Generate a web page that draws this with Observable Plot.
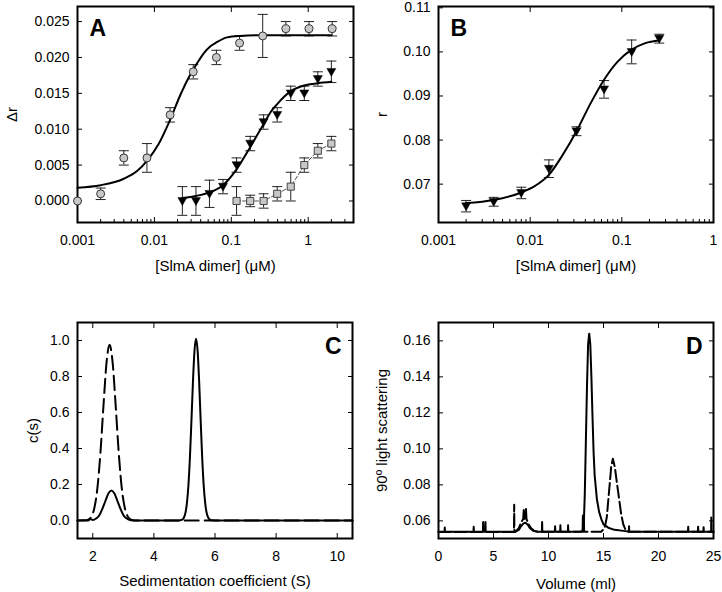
<!DOCTYPE html>
<html><head><meta charset="utf-8">
<script src="https://cdn.jsdelivr.net/npm/d3@7"></script>
<script src="https://cdn.jsdelivr.net/npm/@observablehq/plot@0.6"></script>
<style>
body{margin:0;background:#fff;}
#fig{position:relative;width:722px;height:592px;background:#fff;overflow:hidden;}
.panel{position:absolute;}
</style></head><body><div id="fig"></div>
<script>
// ---------- Panel A data ----------
const aCircX = [0.001,0.002,0.004,0.008,0.016,0.032,0.064,0.128,0.256,0.512,1.024,2.048];
const aCircY = [0.0000,0.0010,0.0060,0.0060,0.0120,0.0180,0.0200,0.0220,0.0230,0.0240,0.0240,0.0240];
const aCircE = [0,0.0008,0.0010,0.0020,0.0010,0.0010,0.0010,0.0010,0.0030,0.0010,0.0010,0.0010];
const aTriX = [0.0231,0.0347,0.052,0.078,0.117,0.176,0.263,0.395,0.593,0.889,1.333,2.0];
const aTriY = [0.0000,0.0000,0.0010,0.0020,0.0050,0.0080,0.0110,0.0120,0.0150,0.0150,0.0170,0.0180];
const aTriE = [0.0020,0.0020,0.0019,0.0010,0.0010,0.0010,0.0010,0.0010,0.0010,0.0010,0.0010,0.0015];
const aSqX = [0.117,0.176,0.263,0.395,0.593,0.889,1.333,2.0];
const aSqY = [0.0000,0.0000,0.0000,0.0010,0.0020,0.0050,0.0070,0.0080];
const aSqE = [0.0020,0.0008,0.0010,0.0010,0.0020,0.0010,0.0010,0.0010];
const aFitCircX = [0.001,0.002,0.004,0.006,0.008,0.0113,0.016,0.0218,0.027,0.032,0.038,0.044,0.054,0.064,0.088,0.128,0.25,0.5,1,2];
const aFitCircY = [0.00185,0.0022,0.0031,0.0042,0.0056,0.0079,0.0113,0.0148,0.0169,0.0183,0.0196,0.0206,0.0216,0.0221,0.0228,0.0230,0.0231,0.0231,0.0231,0.0231];
const aFitTriX = [0.0232,0.0347,0.052,0.078,0.117,0.176,0.22,0.263,0.33,0.395,0.593,0.889,1.333,2.0];
const aFitTriY = [0.0004,0.0007,0.0012,0.0022,0.0044,0.0075,0.0093,0.0107,0.0125,0.0135,0.0153,0.0161,0.0164,0.0166];
const aYTicks = [0,0.005,0.010,0.015,0.020,0.025];

// ---------- Panel B data ----------
const bX = [0.002,0.004,0.008,0.016,0.032,0.064,0.128,0.256];
const bY = [0.0650,0.0660,0.0680,0.0735,0.0820,0.0915,0.1000,0.1030];
const bE = [0.0013,0.0010,0.0013,0.0020,0.0010,0.0020,0.0027,0.0010];
const bFitX = [0.002,0.004,0.008,0.0113,0.016,0.0226,0.032,0.045,0.064,0.09,0.128,0.18,0.256];
const bFitY = [0.0657,0.0664,0.0681,0.0696,0.0721,0.0766,0.0820,0.0881,0.0937,0.0978,0.1005,0.1020,0.1026];
const bYTicks = [0.07,0.08,0.09,0.10,0.11];

const logMajor = [0.001,0.01,0.1,1];
const logMinor = [0.002,0.003,0.004,0.005,0.006,0.007,0.008,0.009,0.02,0.03,0.04,0.05,0.06,0.07,0.08,0.09,0.2,0.3,0.4,0.5,0.6,0.7,0.8,0.9,2,3];

// ---------- Panel C data ----------
const cSolidX = [1.5,1.85,1.93,2.0,2.11,2.21,2.31,2.41,2.51,2.61,2.71,2.81,2.91,3.01,3.11,3.21,3.4,4.8,4.93,4.98,5.03,5.08,5.13,5.18,5.23,5.28,5.33,5.38,5.43,5.48,5.53,5.58,5.63,5.68,5.73,5.78,5.83,5.9,6.1,10.5];
const cSolidY = [0,0,0.008,0.003,0.011,0.028,0.063,0.107,0.150,0.167,0.150,0.107,0.063,0.028,0.011,0.003,0,0,0.005,0.015,0.040,0.095,0.195,0.352,0.559,0.777,0.945,1.010,0.945,0.777,0.559,0.352,0.195,0.095,0.040,0.015,0.005,0.001,0,0];
const cDashX = [1.5,1.75,1.85,1.95,2.05,2.15,2.25,2.35,2.45,2.55,2.65,2.75,2.85,2.95,3.05,3.15,3.25,3.4,10.5];
const cDashY = [0,0.001,0.005,0.021,0.068,0.178,0.375,0.637,0.877,0.976,0.877,0.637,0.375,0.178,0.068,0.021,0.005,0,0];
const cXTicks = [2,4,6,8,10];
const cYTicks = [0,0.2,0.4,0.6,0.8,1.0];

// ---------- Panel D data ----------
const dSolid = [[0,0.054],[0.55,0.054],[0.57,0.0563],[0.59,0.054],[3.18,0.054],[3.2,0.0567],[3.22,0.054],[4.04,0.054],[4.06,0.0594],[4.08,0.054],[4.25,0.054],[4.27,0.0594],[4.29,0.054],[7.0,0.054],[7.3,0.055],[7.5,0.057],[7.7,0.0585],[7.9,0.059],[8.1,0.058],[8.3,0.056],[8.6,0.0545],[9.0,0.054],[9.4,0.054],[9.42,0.0594],[9.44,0.054],[10.58,0.054],[10.6,0.057],[10.62,0.054],[11.06,0.054],[11.08,0.0575],[11.1,0.054],[11.76,0.054],[11.78,0.0576],[11.8,0.054],[12.9,0.054],[13.1,0.0545],[13.13,0.063],[13.16,0.0555],[13.2,0.057],[13.3,0.075],[13.4,0.105],[13.5,0.135],[13.6,0.158],[13.7,0.164],[13.8,0.158],[13.9,0.14],[14.0,0.118],[14.1,0.098],[14.2,0.085],[14.4,0.072],[14.6,0.065],[14.8,0.061],[15.0,0.058],[15.5,0.056],[16.0,0.055],[17.0,0.0543],[17.3,0.054],[17.32,0.057],[17.34,0.054],[22.68,0.054],[22.7,0.0567],[22.72,0.054],[23.58,0.054],[23.6,0.0567],[23.62,0.054],[24.08,0.054],[24.1,0.0565],[24.12,0.054],[24.78,0.054],[24.8,0.0619],[24.82,0.054],[25,0.054]];
const dDash = [[0,0.0538],[6.86,0.0538],[6.88,0.069],[6.9,0.0538],[7.0,0.054],[7.3,0.056],[7.5,0.059],[7.7,0.061],[7.75,0.066],[7.8,0.061],[7.85,0.062],[7.95,0.067],[8.0,0.061],[8.2,0.058],[8.4,0.056],[8.7,0.0545],[9.0,0.054],[13.2,0.054],[13.22,0.0625],[13.24,0.054],[14.8,0.054],[15.1,0.056],[15.3,0.062],[15.5,0.076],[15.7,0.09],[15.85,0.0945],[15.95,0.092],[16.05,0.089],[16.2,0.082],[16.4,0.073],[16.6,0.064],[16.8,0.058],[17.0,0.055],[17.3,0.054],[25,0.054]];
const dXTicks = [0,5,10,15,20,25];
const dYTicks = [0.06,0.08,0.10,0.12,0.14,0.16];

// ---------- helpers ----------
const FONT = '"Liberation Sans", Arial, Helvetica, sans-serif';
const TICK_FS = 14, TITLE_FS = 15;
const hcap = {draw(ctx, size){const w = Math.sqrt(size/Math.PI); ctx.moveTo(-w,0); ctx.lineTo(w,0);}};
const triDown = {draw(ctx, size){const r = Math.sqrt(size/Math.PI); ctx.moveTo(-r,-0.75*r); ctx.lineTo(r,-0.75*r); ctx.lineTo(0,r); ctx.closePath();}};
const none = () => "";

function frameAxes({xMajor, xMinor, yMajor, xFmt, yFmt, xLabel, yLabel, xLabelOffset, yLabelOffset}) {
  const m = [];
  m.push(Plot.axisX(xMajor, {anchor:"bottom", tickSize:5, dy:-5, tickFormat:none, label:null}));
  if (xMinor) m.push(Plot.axisX(xMinor, {anchor:"bottom", tickSize:3, dy:-3, tickFormat:none, label:null}));
  m.push(Plot.axisX(xMajor, {anchor:"top", tickSize:5, dy:5, tickFormat:none, label:null}));
  m.push(Plot.axisY(yMajor, {anchor:"left", tickSize:5, dx:5, tickFormat:none, label:null}));
  m.push(Plot.axisY(yMajor, {anchor:"right", tickSize:5, dx:-5, tickFormat:none, label:null}));
  m.push(Plot.axisX(xMajor, {anchor:"bottom", tickSize:0, tickPadding:12.5, tickFormat:xFmt, label:null, fontSize:TICK_FS}));
  m.push(Plot.axisY(yMajor, {anchor:"left", tickSize:0, tickPadding:8, tickFormat:yFmt, label:null, fontSize:TICK_FS}));
  m.push(Plot.axisX([], {anchor:"bottom", tickSize:0, label:xLabel, labelAnchor:"center", labelOffset:xLabelOffset, labelArrow:"none", fontSize:TITLE_FS}));
  m.push(Plot.axisY([], {anchor:"left", tickSize:0, label:yLabel, labelAnchor:"center", labelOffset:yLabelOffset, labelArrow:"none", fontSize:TITLE_FS}));
  m.push(Plot.frame({stroke:"black", strokeWidth:2}));
  return m;
}
function errMarks(data) {
  const d = data.filter(p => p.e > 0);
  return [
    Plot.ruleX(d, {x:"x", y1:p=>p.y-p.e, y2:p=>p.y+p.e, stroke:"#222", strokeWidth:1}),
    Plot.dot(d, {x:"x", y:p=>p.y+p.e, symbol:hcap, r:5, stroke:"#222", fill:"none", strokeWidth:1}),
    Plot.dot(d, {x:"x", y:p=>p.y-p.e, symbol:hcap, r:5, stroke:"#222", fill:"none", strokeWidth:1})
  ];
}
function letter(t, right) {
  return Plot.text([t], {text:d=>d, frameAnchor: right ? "top-right" : "top-left", textAnchor: right ? "end" : "start",
    dx: right ? -11 : 12, dy: right ? 15 : 13, lineAnchor:"top", fontSize:23, fontWeight:"bold", fill:"black"});
}
const zip = (X, Y, E) => X.map((x,i) => ({x, y:Y[i], e: E ? E[i] : 0}));
const style = {fontFamily:FONT, fontSize:"13px", color:"black", background:"white", overflow:"visible"};
const fig = document.getElementById("fig");
function place(el, left, top) { const d = document.createElement("div"); d.className = "panel"; d.style.left = left+"px"; d.style.top = top+"px"; d.appendChild(el); fig.appendChild(d); }

// ---------- Panel A ----------
const circ = zip(aCircX, aCircY, aCircE), tri = zip(aTriX, aTriY, aTriE), sq = zip(aSqX, aSqY, aSqE);
const A = Plot.plot({
  width:361, height:279, marginLeft:77, marginRight:8, marginTop:6, marginBottom:57, style,
  x:{type:"log", domain:[0.001, 3.88]}, y:{domain:[-0.003, 0.0271]},
  marks:[
    ...frameAxes({xMajor:logMajor, xMinor:logMinor, yMajor:aYTicks, xFmt:d=>String(d), yFmt:d3.format(".3f"),
      xLabel:"[SlmA dimer] (μM)", yLabel:"Δr", xLabelOffset:48, yLabelOffset:71}),
    Plot.line(sq, {x:"x", y:"y", stroke:"#555", strokeWidth:1, strokeDasharray:"4,2"}),
    ...errMarks(circ), ...errMarks(tri), ...errMarks(sq),
    Plot.line(zip(aFitCircX, aFitCircY), {x:"x", y:"y", curve:"monotone-x", stroke:"black", strokeWidth:2}),
    Plot.line(zip(aFitTriX, aFitTriY), {x:"x", y:"y", curve:"monotone-x", stroke:"black", strokeWidth:2}),
    Plot.dot(circ, {x:"x", y:"y", r:4, fill:"#c8c8c8", stroke:"#333", strokeWidth:1}),
    Plot.dot(sq, {x:"x", y:"y", r:4, symbol:"square", fill:"#c8c8c8", stroke:"#444", strokeWidth:1}),
    Plot.dot(tri, {x:"x", y:"y", r:4.5, symbol:triDown, fill:"black", stroke:"black", strokeWidth:0.5}),
    letter("A", false)
  ]
});
place(A, 0, 0);

// ---------- Panel B ----------
const bPts = zip(bX, bY, bE);
const B = Plot.plot({
  width:361, height:279, marginLeft:77, marginRight:9, marginTop:6, marginBottom:57, style,
  x:{type:"log", domain:[0.001, 1]}, y:{domain:[0.0613, 0.1103]},
  marks:[
    ...frameAxes({xMajor:logMajor, xMinor:logMinor.filter(v => v < 1), yMajor:bYTicks, xFmt:d=>String(d), yFmt:d3.format(".2f"),
      xLabel:"[SlmA dimer] (μM)", yLabel:"r", xLabelOffset:48, yLabelOffset:62}),
    ...errMarks(bPts),
    Plot.line(zip(bFitX, bFitY), {x:"x", y:"y", curve:"monotone-x", stroke:"black", strokeWidth:2}),
    Plot.dot(bPts, {x:"x", y:"y", r:4.5, symbol:triDown, fill:"black", stroke:"black", strokeWidth:0.5}),
    letter("B", false)
  ]
});
place(B, 361, 0);

// ---------- Panel C ----------
const C = Plot.plot({
  width:361, height:302, marginLeft:77, marginRight:9, marginTop:32, marginBottom:54, style,
  x:{domain:[1.5, 10.5]}, y:{domain:[-0.1, 1.1]},
  marks:[
    ...frameAxes({xMajor:cXTicks, yMajor:cYTicks, xFmt:d=>String(d), yFmt:d3.format(".1f"),
      xLabel:"Sedimentation coefficient (S)", yLabel:"c(s)", xLabelOffset:47, yLabelOffset:50}),
    Plot.line(zip(cSolidX, cSolidY), {x:"x", y:"y", curve:"monotone-x", stroke:"black", strokeWidth:2}),
    Plot.line(zip(cDashX, cDashY), {x:"x", y:"y", curve:"monotone-x", stroke:"black", strokeWidth:2, strokeDasharray:"14,6"}),
    letter("C", true)
  ]
});
place(C, 0, 290);

// ---------- Panel D ----------
const D = Plot.plot({
  width:361, height:302, marginLeft:77, marginRight:9, marginTop:32, marginBottom:54, style,
  x:{domain:[0, 25]}, y:{domain:[0.0502, 0.1702]},
  marks:[
    ...frameAxes({xMajor:dXTicks, yMajor:dYTicks, xFmt:d=>String(d), yFmt:d3.format(".2f"),
      xLabel:"Volume (ml)", yLabel:"90º light scattering", xLabelOffset:50, yLabelOffset:62}),
    Plot.line(dSolid, {x:d=>d[0], y:d=>d[1], stroke:"black", strokeWidth:2}),
    Plot.line(dDash, {x:d=>d[0], y:d=>d[1], stroke:"black", strokeWidth:2, strokeDasharray:"12,4"}),
    letter("D", true)
  ]
});
place(D, 361, 290);
</script></body></html>
